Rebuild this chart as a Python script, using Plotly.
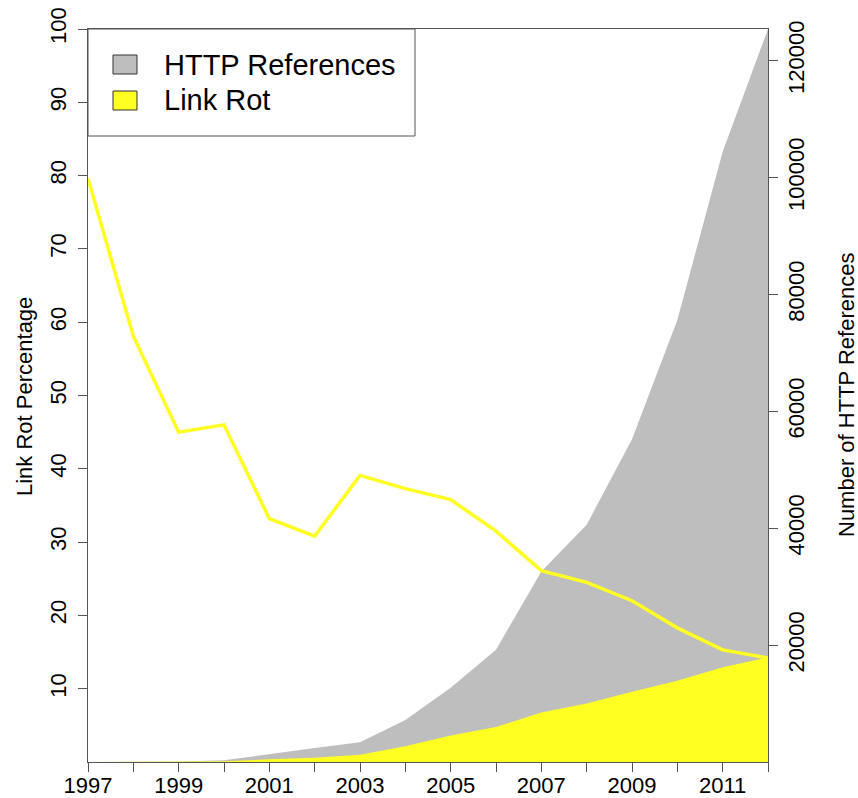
import plotly.graph_objects as go

years = list(range(1997, 2013))
http_refs = [0, 20, 80, 300, 1400, 2400, 3400, 7200, 12700, 19200, 32600, 40600, 55200, 75600, 104400, 125400]
link_rot_count = [0, 10, 40, 140, 450, 740, 1250, 2700, 4550, 6000, 8450, 10000, 12000, 13900, 16200, 17900]
link_rot_pct = [79.6, 58.1, 45.0, 46.0, 33.2, 30.8, 39.1, 37.3, 35.8, 31.5, 26.1, 24.5, 22.0, 18.3, 15.3, 14.2]

x_tickvals = years
x_ticktext = [str(y) if y % 2 == 1 else "" for y in years]
left_tickvals = [10, 20, 30, 40, 50, 60, 70, 80, 90, 100]
right_tickvals = [20000, 40000, 60000, 80000, 100000, 120000]

GRAY = "#BEBEBE"
YELLOW = "#FFFF22"
AXIS = "#555555"
FONT = "Liberation Sans, Arial, Helvetica, sans-serif"

fig = go.Figure()
fig.add_trace(go.Scatter(x=years, y=http_refs, mode="lines", fill="tozeroy",
                         fillcolor=GRAY, line=dict(width=0, color=GRAY),
                         yaxis="y", name="HTTP References", showlegend=False))
fig.add_trace(go.Scatter(x=years, y=link_rot_count, mode="lines", fill="tozeroy",
                         fillcolor=YELLOW, line=dict(width=0, color=YELLOW),
                         yaxis="y", name="Link Rot", showlegend=False))
fig.add_trace(go.Scatter(x=years, y=link_rot_pct, mode="lines",
                         line=dict(width=3.5, color=YELLOW),
                         yaxis="y2", name="Link Rot Percentage", showlegend=False))

# page coordinates of the plot area
PX0, PX1, PY0, PY1 = 88, 768, 29, 762
W, H = 858, 798
L, T, R, B = PX0, PY0, W - PX1, H - PY1
pw, ph = PX1 - PX0, PY1 - PY0

def px_x(p):
    return (p - PX0) / pw

def px_y(p):
    return (PY1 - p) / ph

axis_common = dict(ticks="outside", ticklen=9, tickcolor=AXIS, tickwidth=1,
                   showline=True, linecolor=AXIS, linewidth=1,
                   showgrid=False, zeroline=False, automargin=False,
                   ticklabeloverflow="allow")

fig.update_layout(
    width=W, height=H,
    margin=dict(l=L, r=R, t=T, b=B, autoexpand=False),
    paper_bgcolor="white", plot_bgcolor="white",
    font=dict(family=FONT, size=22, color="black"),
    xaxis=dict(range=[1997, 2012], tickvals=x_tickvals, ticktext=x_ticktext,
               mirror=True, tickfont=dict(size=22), ticklabelstandoff=-5, **axis_common),
    yaxis=dict(side="right", range=[0, 125400], tickvals=right_tickvals,
               tickformat="d", tickangle=-90, tickfont=dict(size=22), **axis_common),
    yaxis2=dict(overlaying="y", side="left", range=[0, 100], tickvals=left_tickvals,
                tickangle=-90, tickfont=dict(size=22), ticklabelstandoff=3, **axis_common),
)

shapes = [
    dict(type="rect", xref="paper", yref="paper", x0=0, x1=px_x(415), y0=px_y(136), y1=1,
         line=dict(color=AXIS, width=1), fillcolor="white", layer="above"),
    dict(type="rect", xref="paper", yref="paper", x0=px_x(113), x1=px_x(137), y0=px_y(74), y1=px_y(55),
         line=dict(color="#333333", width=1), fillcolor=GRAY, layer="above"),
    dict(type="rect", xref="paper", yref="paper", x0=px_x(113), x1=px_x(137), y0=px_y(110), y1=px_y(91),
         line=dict(color="#333333", width=1), fillcolor=YELLOW, layer="above"),
]
fig.update_layout(shapes=shapes)

annotations = [
    dict(text="HTTP References", xref="paper", yref="paper", x=px_x(162), y=px_y(65),
         xanchor="left", yanchor="middle", showarrow=False, font=dict(size=29)),
    dict(text="Link Rot", xref="paper", yref="paper", x=px_x(162), y=px_y(100),
         xanchor="left", yanchor="middle", showarrow=False, font=dict(size=29)),
    dict(text="Link Rot Percentage", xref="paper", yref="paper", x=px_x(25), y=px_y(397),
         xanchor="center", yanchor="middle", textangle=-90, showarrow=False, font=dict(size=22)),
    dict(text="Number of HTTP References", xref="paper", yref="paper", x=px_x(846), y=px_y(395),
         xanchor="center", yanchor="middle", textangle=-90, showarrow=False, font=dict(size=22)),
]
fig.update_layout(annotations=annotations)

fig.write_html("out.html",
               config={"displayModeBar": False},
               post_script="document.body.style.margin='0';document.body.style.overflow='hidden';")
